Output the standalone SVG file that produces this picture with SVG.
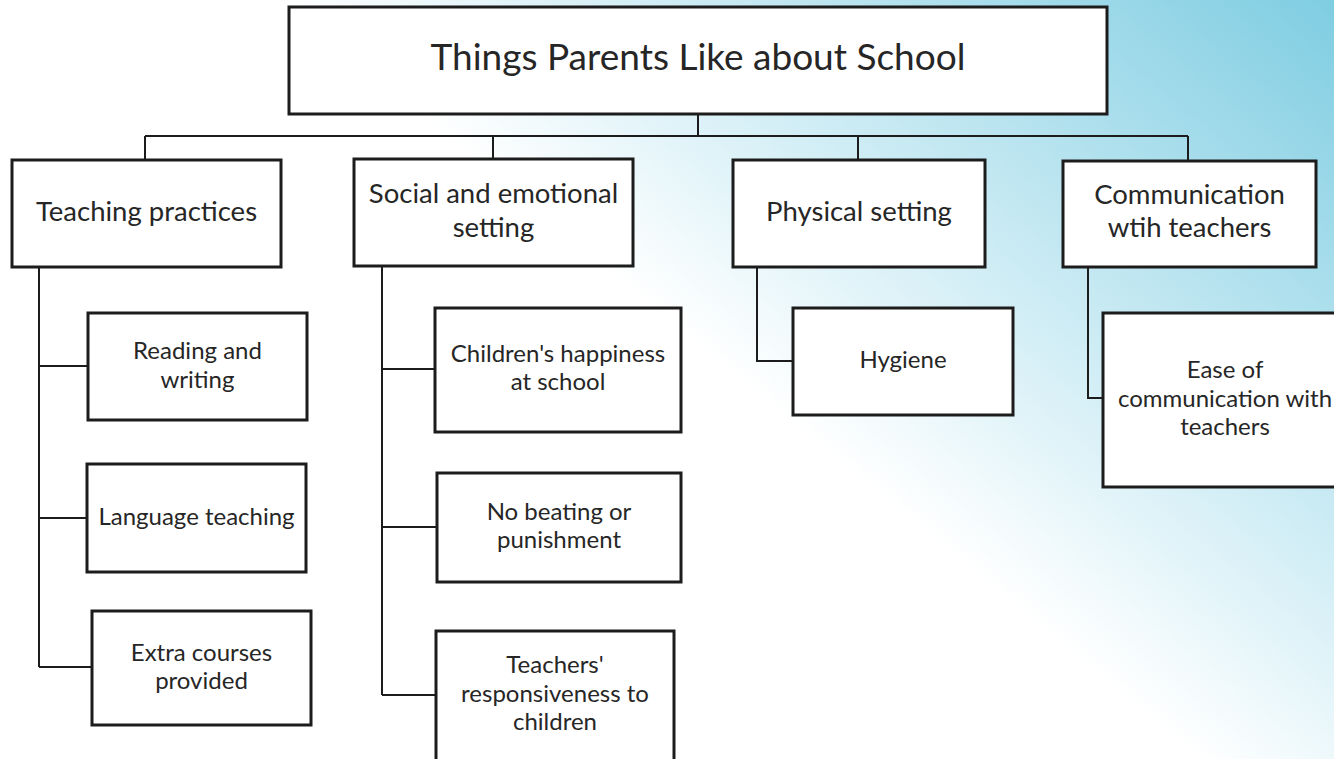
<svg xmlns="http://www.w3.org/2000/svg" width="1334" height="759" viewBox="0 0 1334 759">
  <defs>
    <linearGradient id="bg" gradientUnits="userSpaceOnUse" x1="520" y1="200" x2="947" y2="-318">
      <stop offset="0" stop-color="#ffffff"/>
      <stop offset="0.22" stop-color="#e2f4f9"/>
      <stop offset="1" stop-color="#7fcde2"/>
    </linearGradient>
    <style>
      .box { fill: #ffffff; stroke: #1c1c1c; stroke-width: 3; }
      .wire { fill: none; stroke: #1c1c1c; stroke-width: 2; }
      text { font-family: Lato, "Open Sans", "Liberation Sans", sans-serif; fill: #262626; text-anchor: middle; }
      .t1 { font-size: 37px; }
      .t2 { font-size: 27.5px; }
      .t3 { font-size: 24px; }
    </style>
  </defs>

  <!-- backdrop -->
  <rect x="0" y="0" width="1334" height="759" fill="url(#bg)"/>

  <!-- connectors -->
  <g id="connectors">
    <path class="wire" d="M698 114 V136 M145 136 H1188 M145 136 V160 M493 136 V159 M858 136 V160 M1188 136 V161"/>
    <path class="wire" d="M39 267 V667 M39 366 H88 M39 518 H87 M39 667 H92"/>
    <path class="wire" d="M382 266 V695 M382 369 H435 M382 527 H437 M382 695 H436"/>
    <path class="wire" d="M757 267 V361 H793"/>
    <path class="wire" d="M1088 267 V398 H1103"/>
  </g>

  <!-- root -->
  <g id="root">
    <rect class="box" x="289" y="7" width="818" height="107"/>
    <text class="t1" x="698" y="70">Things Parents Like about School</text>
  </g>

  <!-- categories -->
  <g id="teaching">
    <rect class="box" x="12" y="160" width="269" height="107"/>
    <text class="t2" x="146.5" y="221">Teaching practices</text>
  </g>
  <g id="social">
    <rect class="box" x="354" y="159" width="279" height="107"/>
    <text class="t2" x="493.5" y="203">Social and emotional</text>
    <text class="t2" x="493.5" y="237">setting</text>
  </g>
  <g id="physical">
    <rect class="box" x="733" y="160" width="252" height="107"/>
    <text class="t2" x="859" y="221">Physical setting</text>
  </g>
  <g id="communication">
    <rect class="box" x="1063" y="161" width="253" height="106"/>
    <text class="t2" x="1189.5" y="204">Communication</text>
    <text class="t2" x="1189.5" y="237">wtih teachers</text>
  </g>

  <!-- teaching practices items -->
  <g id="reading">
    <rect class="box" x="88" y="313" width="219" height="107"/>
    <text class="t3" x="197.5" y="359">Reading and</text>
    <text class="t3" x="197.5" y="388">writing</text>
  </g>
  <g id="language">
    <rect class="box" x="87" y="464" width="219" height="108"/>
    <text class="t3" x="196.5" y="525">Language teaching</text>
  </g>
  <g id="extra">
    <rect class="box" x="92" y="611" width="219" height="114"/>
    <text class="t3" x="201.5" y="661">Extra courses</text>
    <text class="t3" x="201.5" y="689">provided</text>
  </g>

  <!-- social and emotional items -->
  <g id="happiness">
    <rect class="box" x="435" y="308" width="246" height="124"/>
    <text class="t3" x="558" y="362">Children's happiness</text>
    <text class="t3" x="558" y="390">at school</text>
  </g>
  <g id="no-beating">
    <rect class="box" x="437" y="473" width="244" height="109"/>
    <text class="t3" x="559" y="520">No beating or</text>
    <text class="t3" x="559" y="548">punishment</text>
  </g>
  <g id="responsiveness">
    <rect class="box" x="436" y="631" width="238" height="140"/>
    <text class="t3" x="555" y="673">Teachers'</text>
    <text class="t3" x="555" y="702">responsiveness to</text>
    <text class="t3" x="555" y="730">children</text>
  </g>

  <!-- physical setting items -->
  <g id="hygiene">
    <rect class="box" x="793" y="308" width="220" height="107"/>
    <text class="t3" x="903" y="368">Hygiene</text>
  </g>

  <!-- communication items -->
  <g id="ease">
    <rect class="box" x="1103" y="313" width="245" height="174"/>
    <text class="t3" x="1225" y="378">Ease of</text>
    <text class="t3" x="1225" y="407">communication with</text>
    <text class="t3" x="1225" y="435">teachers</text>
  </g>
</svg>
